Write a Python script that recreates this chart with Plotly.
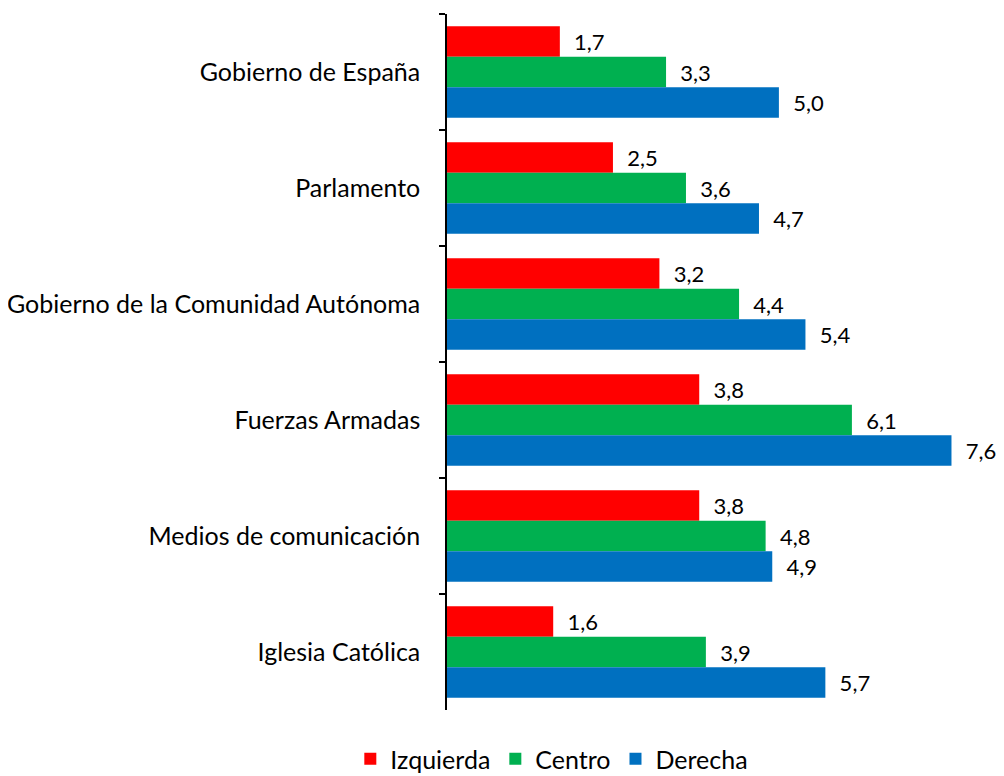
import plotly.graph_objects as go

categories = ["Gobierno de España", "Parlamento", "Gobierno de la Comunidad Autónoma",
              "Fuerzas Armadas", "Medios de comunicación", "Iglesia Católica"]
izquierda = [1.7, 2.5, 3.2, 3.8, 3.8, 1.6]
centro = [3.3, 3.6, 4.4, 6.1, 4.8, 3.9]
derecha = [5.0, 4.7, 5.4, 7.6, 4.9, 5.7]

series = [("Izquierda", izquierda, "#FF0000"),
          ("Centro", centro, "#00B050"),
          ("Derecha", derecha, "#0070C0")]

fig = go.Figure()
for name, vals, color in series:
    fig.add_trace(go.Bar(
        y=categories, x=vals, name=name, orientation="h",
        marker=dict(color=color, line=dict(width=0)),
        texttemplate="  %{x:.1f}", textposition="outside",
        textfont=dict(size=22, color="#000000", family="Lato"),
        cliponaxis=False,
    ))

fig.update_layout(
    width=996, height=768,
    separators=",.",
    barmode="group", bargap=0.21, bargroupgap=0,
    plot_bgcolor="white", paper_bgcolor="white",
    font=dict(family="Lato", size=25, color="#000000"),
    margin=dict(l=439, r=18, t=6, b=66, autoexpand=False),
    xaxis=dict(visible=False, range=[0, 8.12], automargin=False),
    yaxis=dict(categoryorder="array", categoryarray=categories, autorange="reversed",
               automargin=False,
               showline=True, linecolor="black", linewidth=1.5,
               ticks="outside", tickson="boundaries", ticklen=6, tickcolor="black", tickwidth=1.5,
               ticklabelstandoff=20, showgrid=False, tickfont=dict(size=25)),
    legend=dict(orientation="h", xref="container", yref="container",
                x=0.546, xanchor="center", y=0.022, yanchor="middle",
                font=dict(size=25), itemwidth=30, traceorder="normal"),
    showlegend=True,
)

fig.write_html("out.html")
